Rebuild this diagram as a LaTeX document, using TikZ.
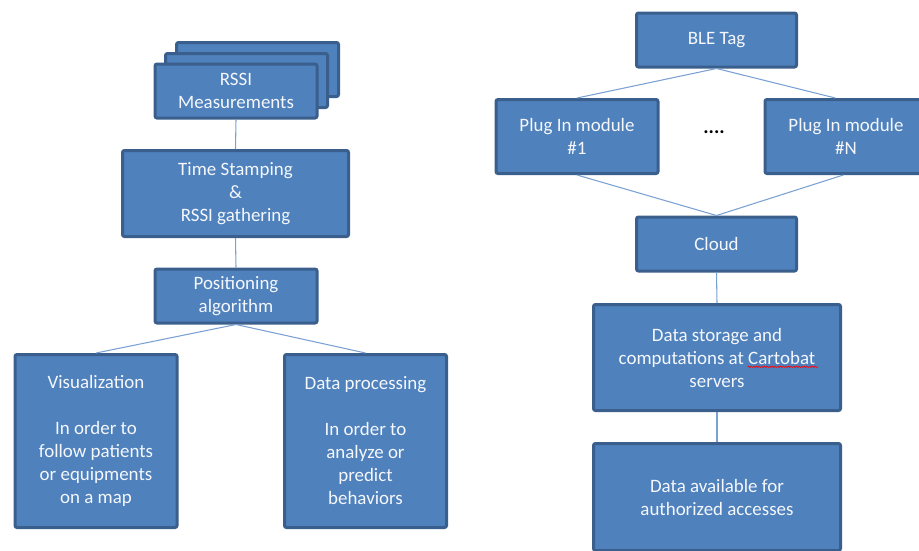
\documentclass[tikz,border=0pt]{standalone}
\usepackage{fontspec}
\setmainfont{Carlito}
\usetikzlibrary{decorations.pathmorphing}
\definecolor{boxfill}{HTML}{4F81BD}
\definecolor{boxline}{HTML}{3A5F8C}
\definecolor{linkline}{HTML}{7BA1D2}
\tikzset{
    blockbox/.style = {draw = boxline, fill = boxfill, line width = 2.25pt, rounded corners = 1.5pt,
        text = white!94!boxfill, align = center, inner sep = 2pt,
        font = \fontsize{14.2}{17.25}\selectfont},
    link/.style = {draw = linkline, line width = 0.8pt}
}
\begin{document}
\begin{tikzpicture}[x = 0.75pt, y = -0.75pt]
        \useasboundingbox (0, 0) rectangle (919, 550);
        \clip (0, 0) rectangle (919, 550);
        % left chain
        \node[blockbox, minimum width = 121.5pt, minimum height = 40.5pt] (rssiC) at (257.5, 69.5) {};
        \node[blockbox, minimum width = 121.5pt, minimum height = 40.5pt] (rssiB) at (246.5, 80.5) {};
        \node[blockbox, minimum width = 121.5pt, minimum height = 40.5pt] (rssi) at (236, 91) {RSSI\\Measurements};
        \node[blockbox, minimum width = 169.5pt, minimum height = 64.5pt] (stamp) at (235.5, 193.5) {Time Stamping\\\&\\RSSI gathering};
        \node[blockbox, minimum width = 121.5pt, minimum height = 40.5pt] (algo) at (236, 296) {Positioning\\algorithm};
        \node[blockbox, minimum width = 121.5pt, minimum height = 129.75pt] (visu) at (96, 441) {Visualization\\[17.25pt]In order to\\follow patients\\or equipments\\on a map};
        \node[blockbox, minimum width = 121.5pt, minimum height = 129.75pt] (proc) at (365.5, 441) {Data processing\\[17.25pt]In order to\\analyze or\\predict\\behaviors};
        % right chain
        \node[blockbox, minimum width = 120pt, minimum height = 40.5pt] (tag) at (716.5, 40) {BLE Tag};
        \node[blockbox, minimum width = 121.5pt, minimum height = 55.5pt] (plugA) at (577, 136.5) {Plug In module\\\#1};
        \node[blockbox, minimum width = 121.5pt, minimum height = 55.5pt] (plugN) at (846, 136.5) {Plug In module\\\#N};
        \node[font = \fontsize{15}{15}\selectfont\bfseries] (dots) at (714, 132) {....};
        \node[blockbox, minimum width = 120pt, minimum height = 40.5pt] (cloud) at (716.5, 244) {Cloud};
        \node[blockbox, minimum width = 185.25pt, minimum height = 79.5pt] (store) at (717, 357.5) {Data storage and\\computations at Cartobat\\servers};
        \node[blockbox, minimum width = 185.25pt, minimum height = 80.25pt] (avail) at (717, 497) {Data available for\\authorized accesses};
        \draw[red, line width = 0.5pt, decorate, decoration = {snake, amplitude = 0.5pt, segment length = 2pt}]
            ([xshift = 23pt, yshift = -7pt]store.center) -- ([xshift = 76pt, yshift = -7pt]store.center);
        % connectors
        \draw[link] (rssi.south) -- (stamp.north);
        \draw[link] (stamp.south) -- (algo.north);
        \draw[link] (algo.south) -- (visu.north);
        \draw[link] (algo.south) -- (proc.north);
        \draw[link] (tag.south) -- (plugA.north);
        \draw[link] (tag.south) -- ([xshift = -8pt]plugN.north);
        \draw[link] (plugA.south) -- (cloud.north);
        \draw[link] ([xshift = -2pt]plugN.south) -- (cloud.north);
        \draw[link] (cloud.south) -- (store.north);
        \draw[link] (store.south) -- (avail.north);
    \end{tikzpicture}
\end{document}
